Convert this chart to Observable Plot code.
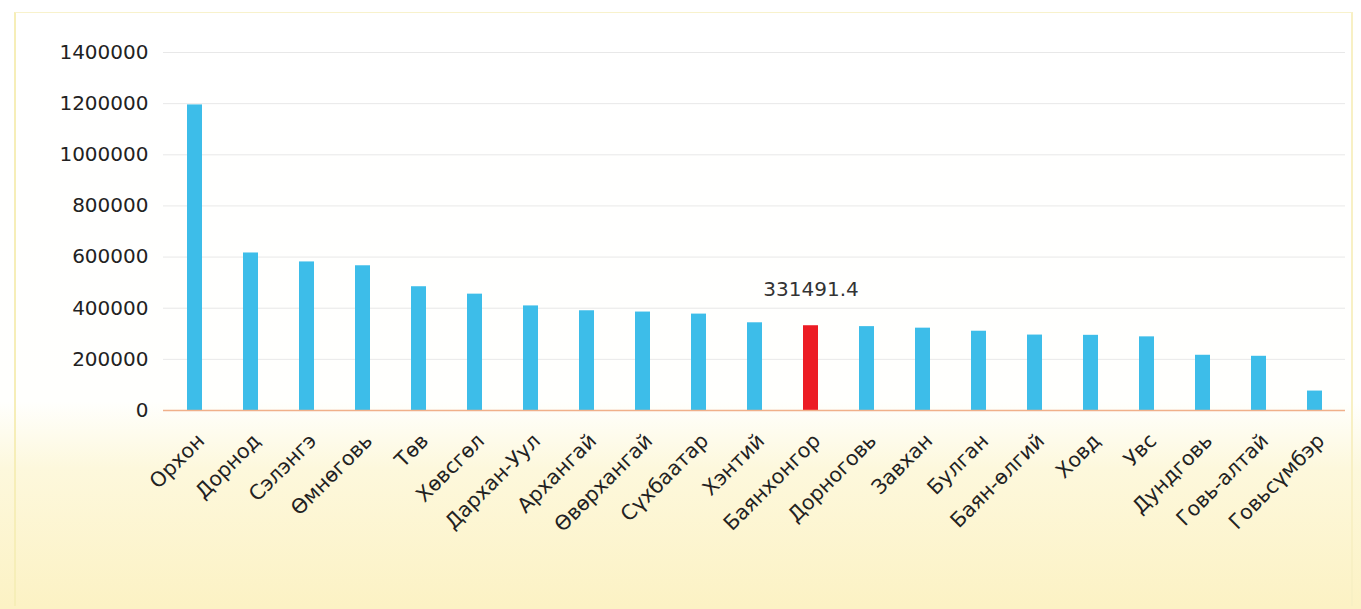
<!DOCTYPE html>
<html><head><meta charset="utf-8">
<script src="https://cdn.jsdelivr.net/npm/d3@7"></script>
<script src="https://cdn.jsdelivr.net/npm/@observablehq/plot@0.6"></script>
<style>
html,body{margin:0;padding:0;}
body{width:1361px;height:609px;overflow:hidden;position:relative;font-family:"DejaVu Sans";
background:linear-gradient(to bottom,#ffffff 0%,#fffffd 66%,#fdf8dc 77%,#fcf2c4 100%);}
#chart svg{display:block;background:transparent;}
.frame{position:absolute;left:14px;top:12px;right:8px;bottom:3px;border-left:2px solid #f6eeb8;border-top:1px solid #f8f2cc;border-right:2px solid #f8f0c4;pointer-events:none}
</style></head><body>
<div class="frame"></div>
<div id="chart"></div>
<script>
const categories = ["Орхон","Дорнод","Сэлэнгэ","Өмнөговь","Төв","Хөвсгөл","Дархан-Уул","Архангай","Өвөрхангай","Сүхбаатар","Хэнтий","Баянхонгор","Дорноговь","Завхан","Булган","Баян-өлгий","Ховд","Увс","Дундговь","Говь-алтай","Говьсүмбэр"];
const values = [1195000,616000,581000,566000,484000,455000,409000,390000,385000,377000,343000,331491.4,328000,322000,310000,295000,294000,288000,216000,212000,76000];
const highlighted = "Баянхонгор";
const yTicks = [0,200000,400000,600000,800000,1000000,1200000,1400000];

const data = categories.map((c, i) => ({name: c, value: values[i]}));
const others = data.filter(d => d.name !== highlighted);
const special = data.filter(d => d.name === highlighted);

const chart = Plot.plot({
  width: 1361, height: 609,
  marginTop: 52, marginLeft: 163, marginRight: 16, marginBottom: 199,
  style: {background: "transparent", fontFamily: "DejaVu Sans", color: "#222"},
  x: {domain: categories, paddingInner: 0.734, paddingOuter: 0.355, label: null},
  y: {domain: [0, 1400000], ticks: yTicks, label: null},
  marks: [
    Plot.gridY(yTicks, {stroke: "#e2e2e2", strokeOpacity: 0.8}),
    Plot.barY(others, {x: "name", y: "value", fill: "#3dbde9"}),
    Plot.barY(special, {x: "name", y: "value", fill: "#ec1c24"}),
    Plot.ruleY([0], {stroke: "#f0b08a", strokeWidth: 1.5}),
    Plot.text(special, {x: "name", y: "value", text: d => String(d.value), dy: -36, fontSize: 20, fill: "#333"}),
    Plot.axisY(yTicks, {tickSize: 0, tickPadding: 15, fontSize: 20, tickFormat: d => String(d)}),
    Plot.axisX({tickSize: 0, tickRotate: -45, tickPadding: 27, fontSize: 20.5, dx: 6})
  ]
});
document.getElementById("chart").appendChild(chart);
</script>
</body></html>
